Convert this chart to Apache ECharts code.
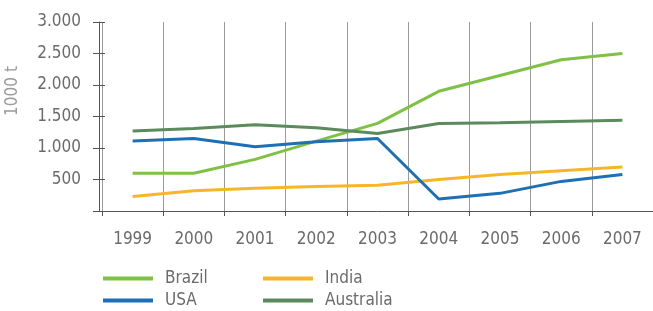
<!DOCTYPE html>
<html>
<head>
<meta charset="utf-8">
<script src="https://cdn.jsdelivr.net/npm/echarts@6/dist/echarts.min.js"></script>
<style>
  html, body { margin: 0; padding: 0; background: #fff; }
  #chart { width: 653px; height: 311px; }
</style>
</head>
<body>
<div id="chart"></div>
<script>
const years = ['1999', '2000', '2001', '2002', '2003', '2004', '2005', '2006', '2007'];
const brazil = [600, 600, 820, 1110, 1390, 1900, 2150, 2400, 2500];
const usa = [1110, 1150, 1020, 1100, 1150, 190, 280, 470, 580];
const india = [230, 320, 360, 390, 410, 500, 580, 640, 700];
const australia = [1270, 1310, 1370, 1320, 1230, 1390, 1400, 1420, 1440];
const yTicks = [0, 500, 1000, 1500, 2000, 2500, 3000];

const gray = '#6a6b6d';
const font = '"Liberation Sans Narrow", "DejaVu Sans Condensed", sans-serif';

const chart = echarts.init(document.getElementById('chart'));

const fmt = v => (v === 0 ? '' : (v >= 1000 ? String(v).replace(/(\d)(\d{3})$/, '$1.$2') : String(v)));

const lineSeries = (name, data, color) => ({
  name: name,
  type: 'line',
  data: data,
  symbol: 'none',
  lineStyle: { color: color, width: 3 },
  itemStyle: { color: color },
  z: 3
});

// one legend per entry, laid out as a 2x2 block
const legendItem = (name, left, top) => ({
  left: left,
  top: top,
  icon: 'rect',
  itemWidth: 50,
  itemHeight: 4,
  textStyle: { color: gray, fontFamily: font, fontSize: 17, padding: [0, 0, 0, 7] },
  data: [name]
});

chart.setOption({
  animation: false,
  grid: { left: 102, right: -3, top: 22, bottom: 100 },
  xAxis: {
    type: 'category',
    data: years,
    boundaryGap: true,
    axisLine: { lineStyle: { color: '#555', width: 1 } },
    axisTick: { show: true, length: 5, lineStyle: { color: '#555' } },
    axisLabel: { color: gray, fontFamily: font, fontSize: 17, margin: 20 },
    splitLine: { show: true, lineStyle: { color: '#9a9a9a', width: 1 } }
  },
  yAxis: [
    {
      type: 'value',
      min: yTicks[0],
      max: yTicks[yTicks.length - 1],
      interval: 500,
      offset: 3,
      axisLine: { show: true, lineStyle: { color: '#555', width: 1 } },
      axisTick: { show: true, length: 6, lineStyle: { color: '#555' } },
      axisLabel: { color: gray, fontFamily: font, fontSize: 17, margin: 18, formatter: fmt },
      splitLine: { show: false }
    },
    {
      type: 'value',
      position: 'left',
      min: yTicks[0],
      max: yTicks[yTicks.length - 1],
      interval: 500,
      offset: 3,
      axisLine: { show: false },
      axisTick: { show: true, inside: true, length: 6, lineStyle: { color: '#555' } },
      axisLabel: { show: false },
      splitLine: { show: false }
    }
  ],
  legend: [
    legendItem('Brazil', 98, 265),
    legendItem('USA', 98, 287),
    legendItem('India', 258, 265),
    legendItem('Australia', 258, 287)
  ],
  graphic: [
    {
      type: 'text',
      x: 13,
      y: 91,
      rotation: Math.PI / 2,
      style: {
        text: '1000 t',
        fill: '#9a9b9d',
        font: '17px ' + font,
        align: 'center',
        verticalAlign: 'middle'
      }
    }
  ],
  series: [
    lineSeries('Brazil', brazil, '#7ec144'),
    lineSeries('India', india, '#f8b52a'),
    lineSeries('USA', usa, '#1f6fb5'),
    lineSeries('Australia', australia, '#5b8a5c')
  ]
});
</script>
</body>
</html>
